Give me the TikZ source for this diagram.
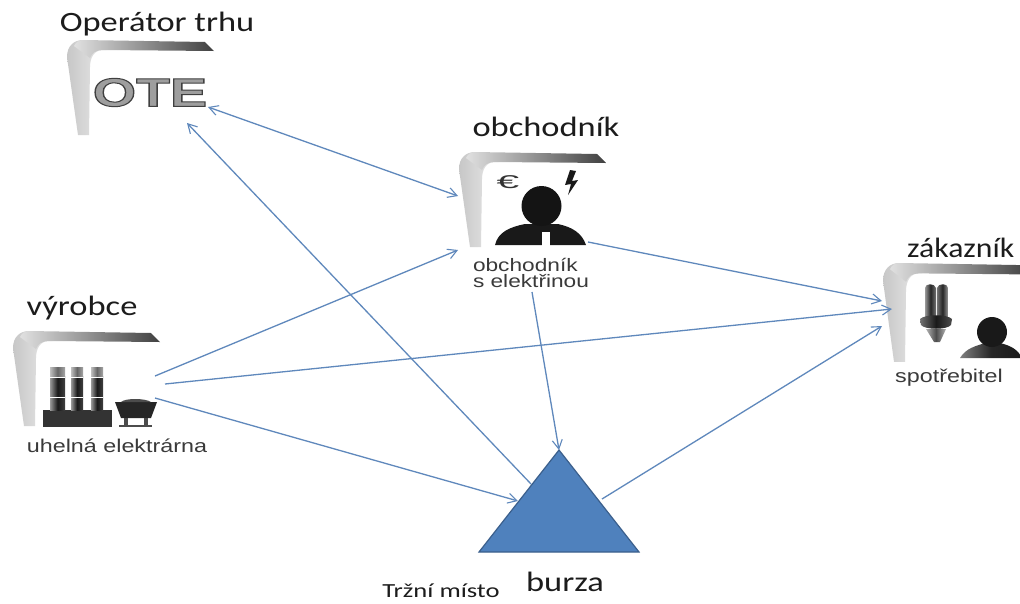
\documentclass[tikz,border=0pt]{standalone}
\usepackage{fontspec}
\setmainfont{Carlito}
\newfontfamily\headf[FakeStretch=1.23]{Carlito}
\newfontfamily\arialf[FakeStretch=1.26]{Liberation Sans}
\newfontfamily\otef[BoldFont={Liberation Sans Bold}]{Liberation Sans}
\usetikzlibrary{arrows.meta}
\definecolor{conn}{HTML}{5F88BC}
\definecolor{trifill}{HTML}{4F81BD}
\definecolor{triedge}{HTML}{3B5F8C}
\definecolor{headtxt}{HTML}{1C1C1C}
\definecolor{subtxt}{HTML}{3A3A3A}
\tikzset{
  x=1pt,y=-1pt,
  link/.style={draw=conn,line width=1.3pt,-{Straight Barb[length=9pt,width=10pt,line width=1.1pt]}},
  biglabel/.style={font=\headf\fontsize{28}{30}\selectfont,text=headtxt,inner sep=0pt},
  sublabel/.style={font=\arialf\fontsize{18.5}{14.5}\selectfont,text=subtxt,inner sep=0pt},
}
% bracket frame with its outer corner at (#1,#2), vertical scale #3
\newcommand{\bracketframe}[3]{%
  \begin{scope}[shift={(#1,#2)},yscale=#3]
    \shade[left color=black!22,right color=black!8]
      (12,95) -- (1,17) .. controls (1,6) and (8,0) .. (17,0) -- (40,2) -- (40,10) -- (37,10)
      .. controls (28,10) and (24,18) .. (24,27) -- (23,95) -- cycle;
    \shade[left color=black!12,middle color=black!28,right color=black!75]
      (17,0) -- (139,2) -- (148,11) -- (37,10) .. controls (30,10) and (26,13) .. (24,18) -- (8,6) .. controls (10,2) and (13,0) .. (17,0) -- cycle;
  \end{scope}}
\begin{document}
\begin{tikzpicture}
\useasboundingbox (0,0) rectangle (1020,603);
\fill[white] (0,0) rectangle (1020,603);

% frames
\bracketframe{66}{40}{1}
\bracketframe{458}{152}{1}
\bracketframe{12}{331}{1}
\begin{scope}
  \clip (0,0) rectangle (1020,603);
  \bracketframe{882}{263}{1.04}
\end{scope}

% OTE mark
\node[inner sep=0pt,font=\otef\bfseries\fontsize{40}{40}\selectfont] (otemark) at (150,92.5)
  {\special{pdf:code 2 Tr 1 w 0.62 g 0.25 G}\scalebox{1.39}[1]{OTE}\special{pdf:code 0 Tr 1 w}};

% trader icon
\node[inner sep=0pt,font=\otef\fontsize{18.5}{19}\selectfont,text=black!80] (euro) at (508,182) {\scalebox{2.2}[1]{€}};
\fill[black!90] (570,170) -- (565,185) -- (571,184) -- (568,195) -- (578,180) -- (572,181) -- (576,171) -- cycle;
\fill[black!90] (495,245) .. controls (498,232) and (510,227) .. (525,224) -- (558,224) .. controls (572,227) and (582,233) .. (586,245) -- cycle;
\fill[black!92] (541.5,206) ellipse[x radius=20,y radius=20];
\fill[white] (542,232) -- (550,232) -- (550,247) -- (542,247) -- cycle;

% plant icon
\fill[black!80] (43,410) -- (112,410) -- (112,427) -- (43,427) -- cycle;
\foreach \xa/\xb in {50/65,71/83,91/103}{
  \shade[left color=black!40,right color=black!75,middle color=black!90] (\xa,376) rectangle (\xb,410);
  \shade[left color=black!25,right color=black!35,middle color=black!60] (\xa,367) rectangle (\xb,376);
  \fill[white] (\xa,376.5) rectangle (\xb,378);
  \fill[white] (\xa,396.5) rectangle (\xb,398);
}
\fill[black!85] (115,402) -- (157,402) -- (151,418) -- (121,418) -- cycle;
\fill[black!70] (121,402) .. controls (125,398) and (145,398) .. (151,402) -- cycle;
\fill[black!70] (124,418) rectangle (128,427);
\fill[black!70] (144,418) rectangle (148,427);
\draw[black!70,line width=1.2pt] (119,426) -- (152,426);

% consumer icon
\shade[left color=black!40,right color=black!55,middle color=black!85] (925,288) .. controls (925,283) and (935,283) .. (936,288) -- (936,317) -- (925,317) -- cycle;
\shade[left color=black!55,right color=black!40,middle color=black!85] (937,288) .. controls (938,283) and (948,283) .. (948,288) -- (948,317) -- (937,317) -- cycle;
\shade[left color=black!55,right color=black!70,middle color=black!90] (920,319) .. controls (925,314) and (947,314) .. (952,319) -- (951,325) .. controls (947,330) and (925,330) .. (921,325) -- cycle;
\shade[left color=black!30,right color=black!30,middle color=black!70] (926,329) -- (946,329) -- (940,342) -- (934,342) -- cycle;
\begin{scope}
  \clip (0,0) rectangle (1020,603);
  \shade[left color=black!50,right color=black!90,middle color=black!85] (960,358) .. controls (966,348) and (976,346) .. (985,343) -- (1000,343) .. controls (1012,346) and (1018,350) .. (1022,358) -- cycle;
  \fill[black!90] (992,332) ellipse[x radius=15,y radius=15];
\end{scope}

% labels
\node[biglabel] (optitle) at (157,24) {Operátor trhu};
\node[biglabel] (obtitle) at (546,127) {obchodník};
\node[biglabel] (vytitle) at (82,308) {výrobce};
\node[biglabel,anchor=west] (zatitle) at (907,248) {\scalebox{0.92}[1]{zákazník}};
\node[biglabel] (butitle) at (565,582) {burza};
\node[inner sep=0pt,anchor=base,font=\fontsize{20}{22}\selectfont,text=headtxt] (trhmisto) at (441,597)
  {\scalebox{1.33}[1]{Tržní místo}};
\node[sublabel,align=left,font=\arialf\fontsize{18}{16.5}\selectfont] (obsub) at (531,273) {obchodník\\s elektřinou};
\node[sublabel] (vysub) at (117,446) {uhelná elektrárna};
\node[sublabel] (zasub) at (949,378) {spotřebitel};

% exchange
\coordinate (triTop) at (559,450);
\coordinate (triL) at (479,552);
\coordinate (triR) at (639,552);
\filldraw[fill=trifill,draw=triedge,line width=1.2pt,line join=miter] (triTop) -- (triL) -- (triR) -- cycle;

% connector ends
\coordinate (oteA) at (208,107);
\coordinate (oteB) at (187,123);
\coordinate (obIn) at (458,196);
\coordinate (obLow) at (458,250);
\coordinate (obRight) at (588,242);
\coordinate (obDown) at (532,292);
\coordinate (vyA) at (155,376);
\coordinate (vyB) at (165,384);
\coordinate (vyC) at (155,398);
\coordinate (zaA) at (882,301);
\coordinate (zaB) at (892,309);
\coordinate (zaC) at (882,326);
\coordinate (buLeft) at (518,501);
\coordinate (buUp) at (531,484);
\coordinate (buRight) at (602,499);

\draw[link,{Straight Barb[length=9pt,width=10pt,line width=1.1pt]}-{Straight Barb[length=9pt,width=10pt,line width=1.1pt]}] (oteA) -- (obIn);
\draw[link] (buUp) -- (oteB);
\draw[link] (vyA) -- (obLow);
\draw[link] (vyB) -- (zaB);
\draw[link] (vyC) -- (buLeft);
\draw[link] (obRight) -- (zaA);
\draw[link] (obDown) -- (triTop);
\draw[link] (buRight) -- (zaC);
\end{tikzpicture}
\end{document}
